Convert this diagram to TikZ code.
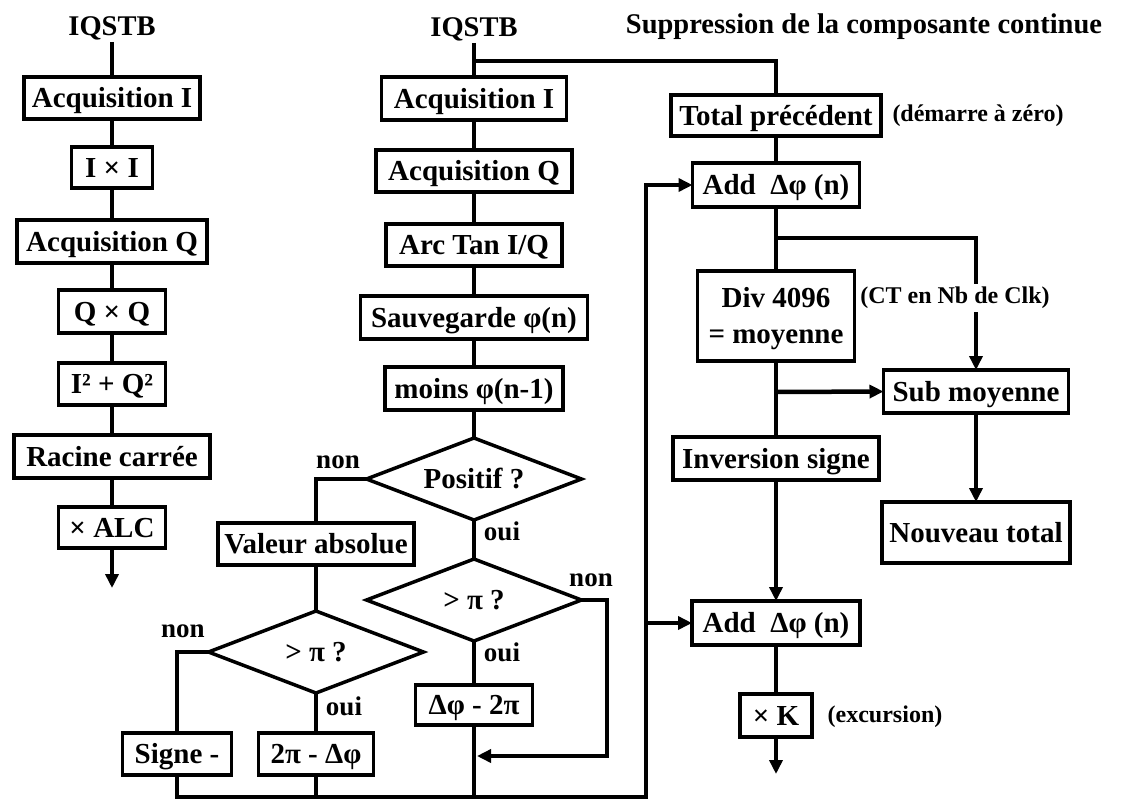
\documentclass[tikz,border=0pt]{standalone}
\usepackage{fontspec}
\setmainfont{Liberation Serif}
\usetikzlibrary{arrows.meta,shapes.geometric}
\begin{document}
\begin{tikzpicture}[x=1pt,y=-1pt,
  bx/.style={draw,line width=3.5pt,rectangle,inner sep=0pt,outer sep=0pt,font=\fontsize{29}{36}\selectfont\bfseries,align=center,text height=19.5pt,text depth=0pt},
  dm/.style={draw,line width=3.5pt,diamond,shape aspect=2.6,inner sep=0pt,outer sep=0pt,minimum width=215pt,minimum height=82pt,font=\fontsize{29}{36}\selectfont\bfseries,text height=19.5pt,text depth=0pt},
  ttl/.style={font=\fontsize{28.5}{34}\selectfont\bfseries,inner sep=2pt},
  yn/.style={font=\fontsize{27}{32}\selectfont\bfseries,inner sep=0pt},
  note/.style={font=\fontsize{24}{28}\selectfont\bfseries,inner sep=1pt},
  ln/.style={line width=4.5pt},
  ar/.style={line width=4.5pt,-{Triangle[length=14pt,width=13pt]}},
  sz/.style 2 args={minimum width=#1pt,minimum height=#2pt}
]
\useasboundingbox[fill=white] (0,0) rectangle (1121,801);

% ---------- left column ----------
\node[ttl] (t1) at (112,28) {IQSTB};
\node[bx,sz={176}{42}] (l1) at (112,98) {Acquisition I};
\node[bx,sz={81}{41}] (l2) at (112,167.5) {I × I};
\node[bx,sz={190}{43}] (l3) at (112,241.5) {Acquisition Q};
\node[bx,sz={107}{43}] (l4) at (112,311.5) {Q × Q};
\node[bx,sz={107}{42}] (l5) at (112,384) {I² + Q²};
\node[bx,sz={196}{43}] (l6) at (112,456.5) {Racine carrée};
\node[bx,sz={107}{41}] (l7) at (112,527.5) {× ALC};
\coordinate (l8) at (112,588);

% ---------- middle column ----------
\node[ttl] (t2) at (474,29) {IQSTB};
\coordinate (j0) at (474,61);
\node[bx,sz={185}{43}] (m1) at (474,98.5) {Acquisition I};
\node[bx,sz={196}{42}] (m2) at (474,171) {Acquisition Q};
\node[bx,sz={176}{42}] (m3) at (474,245) {Arc Tan I/Q};
\node[bx,sz={227}{43}] (m4) at (474,317.5) {Sauvegarde φ(n)};
\node[bx,sz={178}{43}] (m5) at (474,388.5) {moins φ(n-1)};
\node[dm] (d1) at (474,479) {Positif ?};
\node[bx,sz={196}{42}] (v1) at (316,544) {Valeur absolue};
\node[dm] (d2) at (474,600) {> π ?};
\node[dm] (d3) at (316,652) {> π ?};
\node[bx,sz={117}{40}] (b1) at (474,705) {Δφ - 2π};
\node[bx,sz={109}{42}] (s1) at (177,754) {Signe -};
\node[bx,sz={115}{42}] (s2) at (316,754) {2π - Δφ};
\node[yn] (n1) at (338,462) {non};
\node[yn] (o1) at (502,531) {oui};
\node[yn] (n2) at (591,580) {non};
\node[yn] (o2) at (502,652) {oui};
\node[yn] (n3) at (183,631) {non};
\node[yn] (o3) at (344,706) {oui};
\coordinate (c1) at (607,756);
\coordinate (c2) at (477,756);
\coordinate (c3) at (646,797);

% ---------- right column ----------
\node[ttl] (t3) at (864,27) {Suppression de la composante continue};
\node[bx,sz={210}{41}] (r1) at (776,115.5) {Total précédent};
\node[note] (k1) at (978,116) {(démarre à zéro)};
\node[bx,sz={167}{44}] (r2) at (776,185) {Add~ Δφ (n)};
\coordinate (j1) at (776,238);
\node[bx,sz={157}{90},text height=54pt,text depth=0pt] (r3) at (776,316) {Div 4096\\= moyenne};
\node[bx,sz={185}{43}] (r4) at (976,391.5) {Sub moyenne};
\node[bx,sz={188}{61}] (r5) at (976,532.5) {Nouveau total};
\coordinate (j2) at (776,392);
\node[bx,sz={206}{43}] (r6) at (776,458.5) {Inversion signe};
\node[bx,sz={168}{44}] (r7) at (776,623) {Add~ Δφ (n)};
\node[bx,sz={72}{43}] (r8) at (776,715.5) {× K};
\node[note] (k3) at (885,717) {(excursion)};
\coordinate (r9) at (776,774);

% ---------- connectors ----------
\draw[ln] (t1.south) -- (l1.north);
\draw[ln] (l1) -- (l2);
\draw[ln] (l2) -- (l3);
\draw[ln] (l3) -- (l4);
\draw[ln] (l4) -- (l5);
\draw[ln] (l5) -- (l6);
\draw[ln] (l6) -- (l7);
\draw[ar] (l7) -- (l8);

\draw[ln] (t2.south) -- (m1.north);
\draw[ln] (j0) -| (r1.north);
\draw[ln] (m1) -- (m2);
\draw[ln] (m2) -- (m3);
\draw[ln] (m3) -- (m4);
\draw[ln] (m4) -- (m5);
\draw[ln] (m5) -- (d1.north);
\draw[ln] (d1.west) -| (v1.north);
\draw[ln] (d1.south) -- (d2.north);
\draw[ln] (v1.south) -- (d3.north);
\draw[ln] (d3.west) -| (s1.north);
\draw[ln] (d3.south) -- (s2.north);
\draw[ln] (d2.south) -- (b1.north);
\draw[ar] (d2.east) -| (c1) -- (c2);
\draw[ln] (b1.south) -- (b1.south |- c3);
\draw[ln] (s2.south) -- (s2.south |- c3);
\draw[ar] (s1.south) |- (c3) |- (r2.west);
\draw[ar] (c3 |- r7.west) -- (r7.west);

\draw[ln] (r1) -- (r2);
\draw[ln] (r2) -- (r3);
\draw[ar] (j1) -| (r4.north);
\draw[ln] (r3) -- (r6);
\draw[ar] (j2) -- (r4.west);
\draw[ar] (r4) -- (r5);
\draw[ar] (r6) -- (r7);
\draw[ln] (r7) -- (r8);
\draw[ar] (r8) -- (r9);

\node[note,fill=white,inner ysep=3pt] (k2) at (955,298) {(CT en Nb de Clk)};
\end{tikzpicture}
\end{document}
